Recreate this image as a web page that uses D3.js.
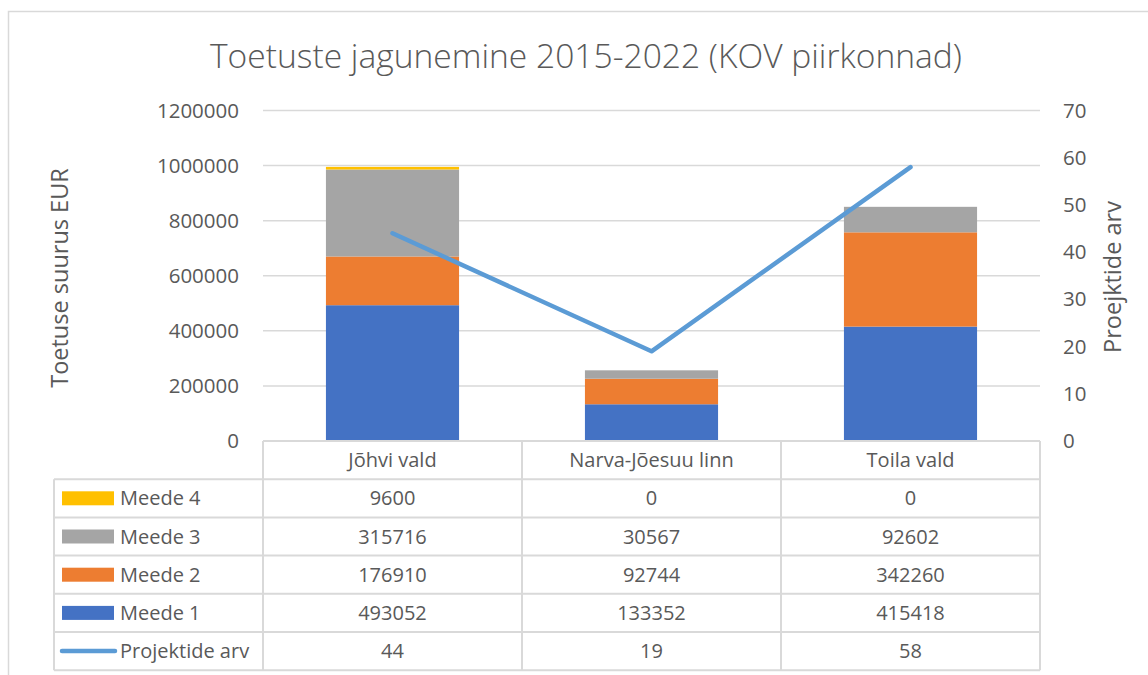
<!DOCTYPE html>
<html>
<head>
<meta charset="utf-8">
<script src="https://cdn.jsdelivr.net/npm/d3@7"></script>
<style>
  body { margin: 0; background: #fff; }
  text { font-family: "Open Sans", "Noto Sans", sans-serif; fill: #595959; }
</style>
</head>
<body>
<script>
// data
var categories = ["Jõhvi vald", "Narva-Jõesuu linn", "Toila vald"];
var meede1 = [493052, 133352, 415418];
var meede2 = [176910, 92744, 342260];
var meede3 = [315716, 30567, 92602];
var meede4 = [9600, 0, 0];
var projektid = [44, 19, 58];
var leftTicks = [0, 200000, 400000, 600000, 800000, 1000000, 1200000];
var rightTicks = [0, 10, 20, 30, 40, 50, 60, 70];

var keys = ["Meede 1", "Meede 2", "Meede 3", "Meede 4"];
var colours = {"Meede 1": "#4472C4", "Meede 2": "#ED7D31", "Meede 3": "#A5A5A5", "Meede 4": "#FFC000"};
var lineColour = "#5B9BD5";

var rows = categories.map(function (c, i) {
    return {name: c, "Meede 1": meede1[i], "Meede 2": meede2[i], "Meede 3": meede3[i], "Meede 4": meede4[i], proj: projektid[i]};
});

var svg = d3.select("body").append("svg")
    .attr("width", 1148)
    .attr("height", 675);

var plot = {left: 263, right: 1040, top: 110.5, bottom: 441};
var rowH = 38.2;
var grid = "#D9D9D9";
var fs = "20px";

// outer chart border
svg.append("rect")
    .attr("x", 8.5).attr("y", 11.5)
    .attr("width", 1160).attr("height", 700)
    .attr("fill", "none").attr("stroke", grid).attr("stroke-width", 1.5);

svg.append("text")
    .attr("x", 586).attr("y", 68)
    .attr("text-anchor", "middle")
    .style("font-size", "33.6px")
    .style("font-weight", 300)
    .text("Toetuste jagunemine 2015-2022 (KOV piirkonnad)");

var x = d3.scaleBand()
    .domain(categories)
    .range([plot.left, plot.right])
    .paddingInner(0.486)
    .paddingOuter(0.243);

var y = d3.scaleLinear().domain([0, 1200000]).range([plot.bottom, plot.top]);
var y2 = d3.scaleLinear().domain([0, 70]).range([plot.bottom, plot.top]);

// gridlines
svg.append("g")
    .selectAll("line")
    .data(leftTicks.slice(1))
    .enter().append("line")
    .attr("x1", plot.left).attr("x2", plot.right)
    .attr("y1", d => y(d)).attr("y2", d => y(d))
    .attr("stroke", grid).attr("stroke-width", 1.5);

var yAxis = d3.axisLeft(y).tickValues(leftTicks).tickSize(0).tickPadding(0).tickFormat(d3.format("d"));
svg.append("g")
    .attr("transform", "translate(" + 239 + ",0)")
    .call(yAxis)
    .call(g => g.select(".domain").remove())
    .selectAll("text")
    .attr("fill", "#595959")
    .style("font-size", "20.5px");

var y2Axis = d3.axisRight(y2).tickValues(rightTicks).tickSize(0).tickPadding(0);
svg.append("g")
    .attr("transform", "translate(" + 1063 + ",0)")
    .call(y2Axis)
    .call(g => g.select(".domain").remove())
    .selectAll("text")
    .attr("fill", "#595959")
    .style("font-size", "20.5px");

svg.append("text")
    .attr("transform", "translate(68,278) rotate(-90)")
    .attr("text-anchor", "middle")
    .style("font-size", "23.5px")
    .text("Toetuse suurus EUR");

svg.append("text")
    .attr("transform", "translate(1121,277) rotate(-90)")
    .attr("text-anchor", "middle")
    .style("font-size", "23.5px")
    .text("Proejktide arv");

// stacked bars
var stacked = d3.stack().keys(keys)(rows);
svg.append("g")
    .selectAll("g")
    .data(stacked)
    .enter().append("g")
    .attr("fill", d => colours[d.key])
    .selectAll("rect")
    .data(d => d)
    .enter().append("rect")
    .attr("x", d => x(d.data.name))
    .attr("width", x.bandwidth())
    .attr("y", d => y(d[1]))
    .attr("height", d => y(d[0]) - y(d[1]));

// line on the right axis
var line = d3.line()
    .x(d => x(d.name) + x.bandwidth() / 2)
    .y(d => y2(d.proj));
svg.append("path")
    .datum(rows)
    .attr("d", line)
    .attr("fill", "none")
    .attr("stroke", lineColour)
    .attr("stroke-width", 4.5)
    .attr("stroke-linecap", "round")
    .attr("stroke-linejoin", "round");

// data table
var table = svg.append("g");
var tableLeft = 54;
var step = x.step();
var tableRows = [
    {label: "Meede 4", values: meede4, type: "rect", colour: colours["Meede 4"]},
    {label: "Meede 3", values: meede3, type: "rect", colour: colours["Meede 3"]},
    {label: "Meede 2", values: meede2, type: "rect", colour: colours["Meede 2"]},
    {label: "Meede 1", values: meede1, type: "rect", colour: colours["Meede 1"]},
    {label: "Projektide arv", values: projektid, type: "line", colour: lineColour}
];
var tableBottom = plot.bottom + rowH * (tableRows.length + 1);

// horizontal lines
table.append("line")
    .attr("x1", plot.left).attr("x2", plot.right)
    .attr("y1", plot.bottom).attr("y2", plot.bottom)
    .attr("stroke", grid).attr("stroke-width", 2);
d3.range(1, tableRows.length + 2).forEach(function (i) {
    table.append("line")
        .attr("x1", tableLeft).attr("x2", plot.right)
        .attr("y1", plot.bottom + rowH * i).attr("y2", plot.bottom + rowH * i)
        .attr("stroke", grid).attr("stroke-width", 2);
});
// vertical lines
table.append("line")
    .attr("x1", tableLeft).attr("x2", tableLeft)
    .attr("y1", plot.bottom + rowH).attr("y2", tableBottom)
    .attr("stroke", grid).attr("stroke-width", 2);
d3.range(0, categories.length + 1).forEach(function (i) {
    table.append("line")
        .attr("x1", plot.left + step * i).attr("x2", plot.left + step * i)
        .attr("y1", plot.bottom).attr("y2", tableBottom)
        .attr("stroke", grid).attr("stroke-width", 2);
});

// header
table.selectAll("text.head")
    .data(categories)
    .enter().append("text")
    .attr("class", "head")
    .attr("x", d => x(d) + x.bandwidth() / 2)
    .attr("y", plot.bottom + rowH / 2)
    .attr("dy", "0.35em")
    .attr("text-anchor", "middle")
    .style("font-size", fs)
    .text(d => d);

tableRows.forEach(function (r, i) {
    var cy = plot.bottom + rowH * (i + 1) + rowH / 2;
    if (r.type == "rect") {
        table.append("rect")
            .attr("x", 62).attr("y", cy - 7)
            .attr("width", 52).attr("height", 14)
            .attr("fill", r.colour);
    } else {
        table.append("line")
            .attr("x1", 62).attr("x2", 115)
            .attr("y1", cy).attr("y2", cy)
            .attr("stroke", r.colour).attr("stroke-width", 4.5)
            .attr("stroke-linecap", "round");
    }
    table.append("text")
        .attr("x", 120).attr("y", cy)
        .attr("dy", "0.35em")
        .style("font-size", fs)
        .text(r.label);
    table.selectAll(null)
        .data(r.values)
        .enter().append("text")
        .attr("x", (d, j) => x(categories[j]) + x.bandwidth() / 2)
        .attr("y", cy)
        .attr("dy", "0.35em")
        .attr("text-anchor", "middle")
        .style("font-size", fs)
        .text(d => d);
});
</script>
</body>
</html>
